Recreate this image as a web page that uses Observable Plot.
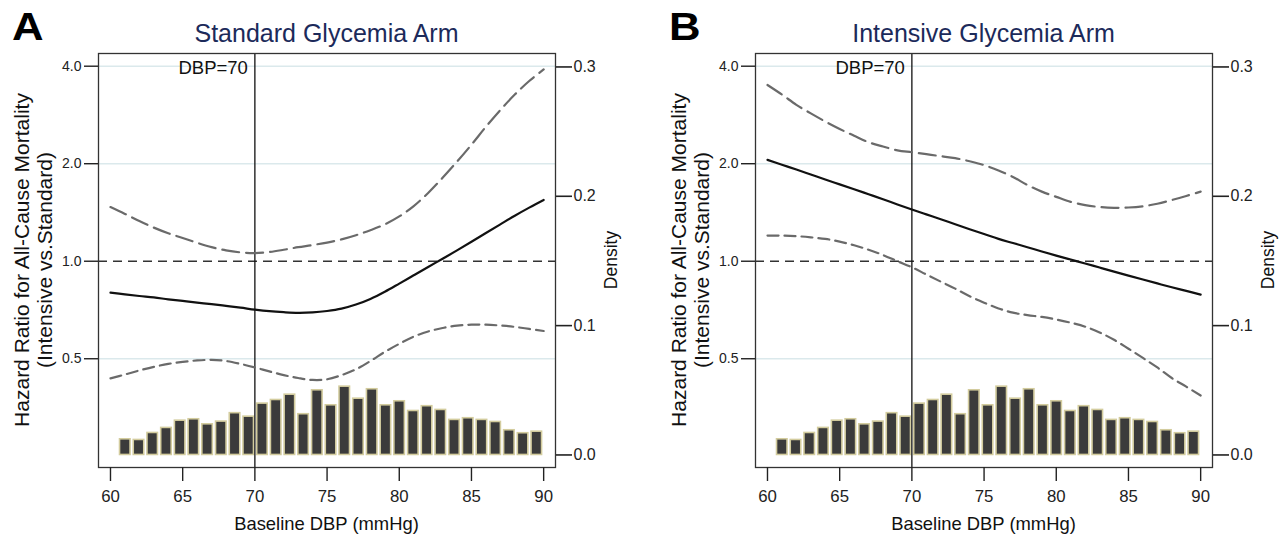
<!DOCTYPE html>
<html><head><meta charset="utf-8">
<script src="https://cdn.jsdelivr.net/npm/d3@7"></script>
<script src="https://cdn.jsdelivr.net/npm/@observablehq/plot@0.6"></script>
<style>
body{margin:0;background:#fff;font-family:"Liberation Sans",Arial,sans-serif;}
#root{position:relative;width:1287px;height:536px;overflow:hidden;background:#fff;}
.panel{position:absolute;top:0;width:643px;height:536px;}
.layer{position:absolute;left:0;top:0;}
.layer svg{overflow:visible;}
.t{position:absolute;white-space:nowrap;line-height:1;font-family:"Liberation Sans",Arial,sans-serif;}
</style></head><body><div id="root"></div>
<script>
// ---- data ----
const dbp = [60,61,62,63,64,65,66,67,68,69,70,71,72,73,74,75,76,77,78,79,80,81,82,83,84,85,86,87,88,89,90];
const hrStandard    = [0.800,0.790,0.781,0.773,0.763,0.754,0.745,0.737,0.728,0.719,0.709,0.701,0.696,0.693,0.695,0.702,0.714,0.735,0.765,0.805,0.853,0.905,0.960,1.018,1.080,1.148,1.222,1.300,1.382,1.464,1.546];
const upperStandard = [1.47,1.40,1.33,1.27,1.22,1.18,1.14,1.105,1.08,1.065,1.06,1.068,1.085,1.105,1.122,1.142,1.168,1.203,1.247,1.30,1.375,1.48,1.625,1.81,2.03,2.29,2.60,2.93,3.27,3.60,3.91];
const lowerStandard = [0.435,0.447,0.460,0.472,0.482,0.489,0.494,0.496,0.492,0.482,0.470,0.457,0.445,0.436,0.430,0.432,0.445,0.464,0.492,0.525,0.556,0.585,0.607,0.622,0.633,0.637,0.637,0.633,0.627,0.618,0.609];
const hrIntensive    = [2.055,1.985,1.919,1.852,1.787,1.727,1.668,1.610,1.554,1.497,1.444,1.395,1.348,1.300,1.255,1.213,1.172,1.138,1.105,1.072,1.041,1.012,0.984,0.956,0.929,0.903,0.878,0.854,0.831,0.810,0.789];
const upperIntensive = [3.50,3.27,3.04,2.86,2.70,2.56,2.44,2.33,2.26,2.20,2.17,2.14,2.11,2.08,2.035,1.98,1.905,1.82,1.72,1.64,1.58,1.525,1.49,1.47,1.462,1.465,1.478,1.505,1.545,1.59,1.64];
const lowerIntensive = [1.200,1.200,1.195,1.185,1.172,1.150,1.120,1.085,1.045,1.000,0.958,0.910,0.865,0.823,0.780,0.745,0.715,0.694,0.682,0.673,0.661,0.646,0.628,0.603,0.572,0.537,0.503,0.470,0.436,0.410,0.385];
const densityStandard  = [0.0121,0.0116,0.0170,0.0209,0.0265,0.0276,0.0237,0.0258,0.0323,0.0296,0.0397,0.0425,0.0466,0.0315,0.0500,0.0384,0.0528,0.0435,0.0508,0.0384,0.0415,0.0340,0.0377,0.0348,0.0271,0.0284,0.0271,0.0255,0.0191,0.0168,0.0180];
const densityIntensive = [0.0121,0.0116,0.0170,0.0209,0.0265,0.0276,0.0237,0.0258,0.0323,0.0296,0.0397,0.0425,0.0466,0.0315,0.0500,0.0384,0.0528,0.0435,0.0508,0.0384,0.0415,0.0340,0.0377,0.0348,0.0271,0.0284,0.0271,0.0255,0.0191,0.0168,0.0180];
const binStart = 60.55, binWidth = 0.95;
const hrTicks = [0.5,1,2,4];
const densityTicks = [0,0.1,0.2,0.3];
const xTicks = [60,65,70,75,80,85,90];
const refDBP = 70;
const panels = [
  {letter:"A", title:"Standard Glycemia Arm", hr:hrStandard, upper:upperStandard, lower:lowerStandard, density:densityStandard, left:0},
  {letter:"B", title:"Intensive Glycemia Arm", hr:hrIntensive, upper:upperIntensive, lower:lowerIntensive, density:densityIntensive, left:657}
];

// ---- layout ----
const W = 643, H = 536;
const M = {marginLeft:98, marginRight:88, marginTop:53, marginBottom:69};
const xDomain = [59.17, 90.82];
const font = '"Liberation Sans", Arial, sans-serif';
const root = document.getElementById("root");

function addText(parent, txt, css){
  const d = document.createElement("div");
  d.className = "t";
  d.innerHTML = txt;
  Object.assign(d.style, css);
  parent.appendChild(d);
  return d;
}

for (const p of panels) {
  const panel = document.createElement("div");
  panel.className = "panel";
  panel.style.left = p.left + "px";
  root.appendChild(panel);

  const bins = p.density.map((d, i) => ({x1: binStart + i*binWidth, x2: binStart + (i+1)*binWidth, d}));
  const bars = Plot.plot({
    width: W, height: H, ...M,
    style: {background: "transparent", fontFamily: font, color: "#222", overflow: "visible"},
    x: {domain: xDomain, axis: null},
    y: {domain: [-0.0097, 0.3104]},
    marks: [
      Plot.rectY(bins, {x1: "x1", x2: "x2", y: "d", fill: "#3b3b3b", stroke: "#d3cc9e", strokeWidth: 1.6, insetLeft: 1.6, insetRight: 1.6}),
      Plot.axisY(densityTicks, {anchor: "right", tickFormat: d3.format(".1f"), tickSize: 16, tickPadding: 2, fontSize: 16, label: null, strokeWidth: 1.6})
    ]
  });
  const l1 = document.createElement("div"); l1.className = "layer"; l1.appendChild(bars); panel.appendChild(l1);

  const rows = dbp.map((x, i) => ({x, hr: p.hr[i], up: p.upper[i], lo: p.lower[i]}));
  const lines = Plot.plot({
    width: W, height: H, ...M,
    style: {background: "transparent", fontFamily: font, color: "#222", overflow: "visible"},
    x: {domain: xDomain},
    y: {type: "log", domain: [0.2308, 4.378]},
    marks: [
      Plot.gridY([0.5, 2, 4], {stroke: "#dbe9ec", strokeOpacity: 1, strokeWidth: 1.6}),
      Plot.ruleY([1], {stroke: "#333", strokeWidth: 1.6, strokeDasharray: "9,6"}),
      Plot.ruleX([refDBP], {stroke: "#111", strokeWidth: 1.3}),
      Plot.line(rows, {x: "x", y: "up", stroke: "#6a6a6a", strokeWidth: 2.2, strokeDasharray: "17,7", curve: "catmull-rom"}),
      Plot.line(rows, {x: "x", y: "lo", stroke: "#6a6a6a", strokeWidth: 2.2, strokeDasharray: "11,6", curve: "catmull-rom"}),
      Plot.line(rows, {x: "x", y: "hr", stroke: "#111", strokeWidth: 2.2, curve: "catmull-rom"}),
      Plot.text(["DBP=70"], {x: [refDBP], frameAnchor: "top", textAnchor: "end", lineAnchor: "top", dx: -7, dy: 7, fontSize: 18.5, fill: "#111"}),
      Plot.frame({stroke: "#333", strokeWidth: 1.3}),
      Plot.axisY(hrTicks, {anchor: "left", tickFormat: d3.format(".1f"), tickSize: 14, tickPadding: 3, fontSize: 14, label: null, strokeWidth: 1.4}),
      Plot.axisX(xTicks, {anchor: "bottom", tickSize: 14, tickPadding: 9, fontSize: 16.8, label: null, strokeWidth: 1.4})
    ]
  });
  const l2 = document.createElement("div"); l2.className = "layer"; l2.appendChild(lines); panel.appendChild(l2);

  // texts
  addText(panel, p.letter, {left: "12px", top: "8px", fontSize: "38px", fontWeight: "bold", color: "#000", transform: "scaleX(1.15)", transformOrigin: "left top"});
  addText(panel, p.title, {left: "326.5px", top: "21px", fontSize: "25px", color: "#1c2a5a", transform: "translateX(-50%)"});
  addText(panel, "Hazard Ratio for All-Cause Mortality<br>(Intensive vs.Standard)",
    {left: "32.5px", top: "260px", fontSize: "21px", lineHeight: "23px", textAlign: "center", color: "#111",
     transform: "translate(-50%,-50%) rotate(-90deg)"});
  addText(panel, "Density", {left: "612px", top: "260px", fontSize: "17.5px", color: "#111",
     transform: "translate(-50%,-50%) rotate(-90deg)"});
  addText(panel, "Baseline DBP (mmHg)", {left: "326.5px", top: "514.5px", fontSize: "18.4px", color: "#111", transform: "translateX(-50%)"});
}
</script></body></html>
